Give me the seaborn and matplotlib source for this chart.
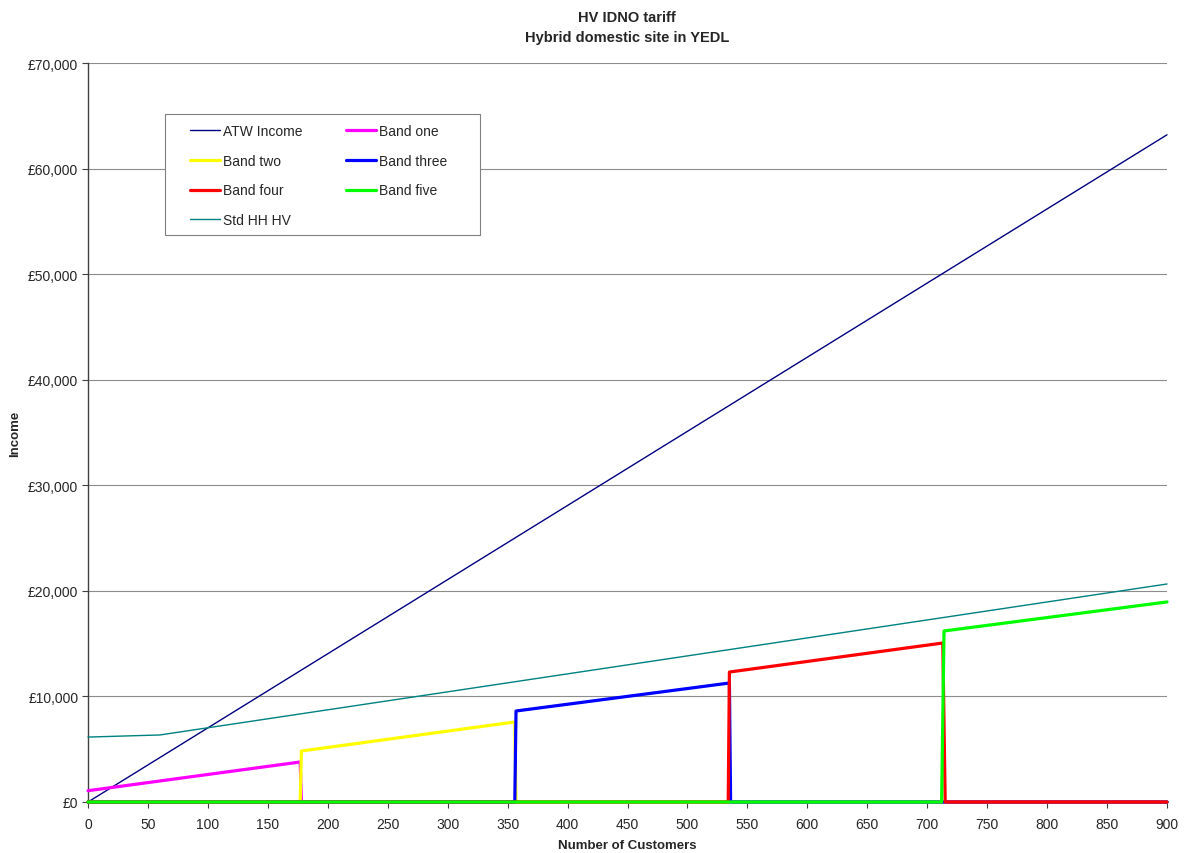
import matplotlib
matplotlib.use("Agg")
import matplotlib.pyplot as plt
from matplotlib.ticker import FuncFormatter, MultipleLocator
from matplotlib.patches import Rectangle
from matplotlib.legend_handler import HandlerLine2D
import seaborn as sns
import pandas as pd

# Customer counts and income (£) at the vertices of each series
atw_x = [0, 900]
atw_y = [0, 63200]

band_one_x = [0, 177, 178, 900]
band_one_y = [1070, 3790, 0, 0]

band_two_x = [0, 177, 178, 356, 357, 900]
band_two_y = [0, 0, 4830, 7580, 0, 0]

band_three_x = [0, 356, 357, 535, 536, 900]
band_three_y = [0, 0, 8620, 11270, 0, 0]

band_four_x = [0, 534, 535, 713, 715, 900]
band_four_y = [0, 0, 12310, 15060, 0, 0]

band_five_x = [0, 712, 714, 900]
band_five_y = [0, 0, 16200, 18950]

std_hh_x = [0, 60, 900]
std_hh_y = [6150, 6350, 20650]

series = [
    ("ATW Income", atw_x, atw_y, "#000080", 1.0),
    ("Band one", band_one_x, band_one_y, "#FF00FF", 2.3),
    ("Band two", band_two_x, band_two_y, "#FFFF00", 2.3),
    ("Band three", band_three_x, band_three_y, "#0000FF", 2.3),
    ("Band four", band_four_x, band_four_y, "#FF0000", 2.3),
    ("Band five", band_five_x, band_five_y, "#00FF00", 2.3),
    ("Std HH HV", std_hh_x, std_hh_y, "#008080", 1.0),
]

sns.set_style("white")
plt.rcParams["font.family"] = ["Liberation Sans", "DejaVu Sans"]

fig = plt.figure(figsize=(11.84, 8.54), dpi=100)
ax = fig.add_axes([88 / 1184, 1 - 803 / 854, (1167 - 88) / 1184, (803 - 64) / 854])

handles = {}
for name, xs, ys, color, lw in series:
    df = pd.DataFrame({"customers": xs, "income": ys})
    sns.lineplot(data=df, x="customers", y="income", ax=ax, color=color,
                 linewidth=lw, estimator=None, sort=False, label=name,
                 clip_on=False, zorder=3)
    handles[name] = ax.get_lines()[-1]

ax.set_xlim(0, 900)
ax.set_ylim(0, 70000)
ax.xaxis.set_major_locator(MultipleLocator(50))
ax.yaxis.set_major_locator(MultipleLocator(10000))
ax.yaxis.set_major_formatter(FuncFormatter(lambda v, p: f"£{v:,.0f}"))

ax.grid(axis="y", color="#8c8c8c", linewidth=0.8)
ax.grid(axis="x", visible=False)
ax.set_axisbelow(True)
for side in ("top", "right"):
    ax.spines[side].set_visible(False)
for side in ("left", "bottom"):
    ax.spines[side].set_color("#404040")
    ax.spines[side].set_linewidth(1.0)

ax.tick_params(axis="both", which="major", direction="out", length=4, width=0.8,
               color="#404040", labelsize=10, bottom=True, left=True)
ax.tick_params(axis="x", pad=7)
ax.tick_params(axis="y", pad=3)

ax.set_xlabel("Number of Customers", fontsize=9.5, fontweight="bold")
ax.set_ylabel("Income", fontsize=9.5, fontweight="bold")
ax.xaxis.set_label_coords(0.5, -0.050)
ax.yaxis.set_label_coords(-0.062, 0.5)

fig.text(627 / 1184, 1 - 18 / 854, "HV IDNO tariff", ha="center", va="center",
         fontsize=10.5, fontweight="bold")
fig.text(627 / 1184, 1 - 38 / 854, "Hybrid domestic site in YEDL", ha="center",
         va="center", fontsize=10.5, fontweight="bold")

# Legend box (white panel with grey border) and two-column entries inside it
ax.add_patch(Rectangle((0.0714, 0.7673), 0.2920, 0.1637, transform=ax.transAxes,
                       facecolor="white", edgecolor="#808080", linewidth=0.8,
                       zorder=4, clip_on=False))
order = ["ATW Income", "Band two", "Band four", "Std HH HV",
         "Band one", "Band three", "Band five"]
leg = ax.legend([handles[n] for n in order], order, ncol=2,
                loc="upper left", bbox_to_anchor=(0.0945, 0.917),
                frameon=False, fontsize=10,
                handlelength=2.15, handletextpad=0.2, labelspacing=1.12,
                columnspacing=3.17, borderpad=0, borderaxespad=0,
                handler_map={h: HandlerLine2D() for h in handles.values()})
leg.set_zorder(5)

fig.savefig("out.png", dpi=100)
